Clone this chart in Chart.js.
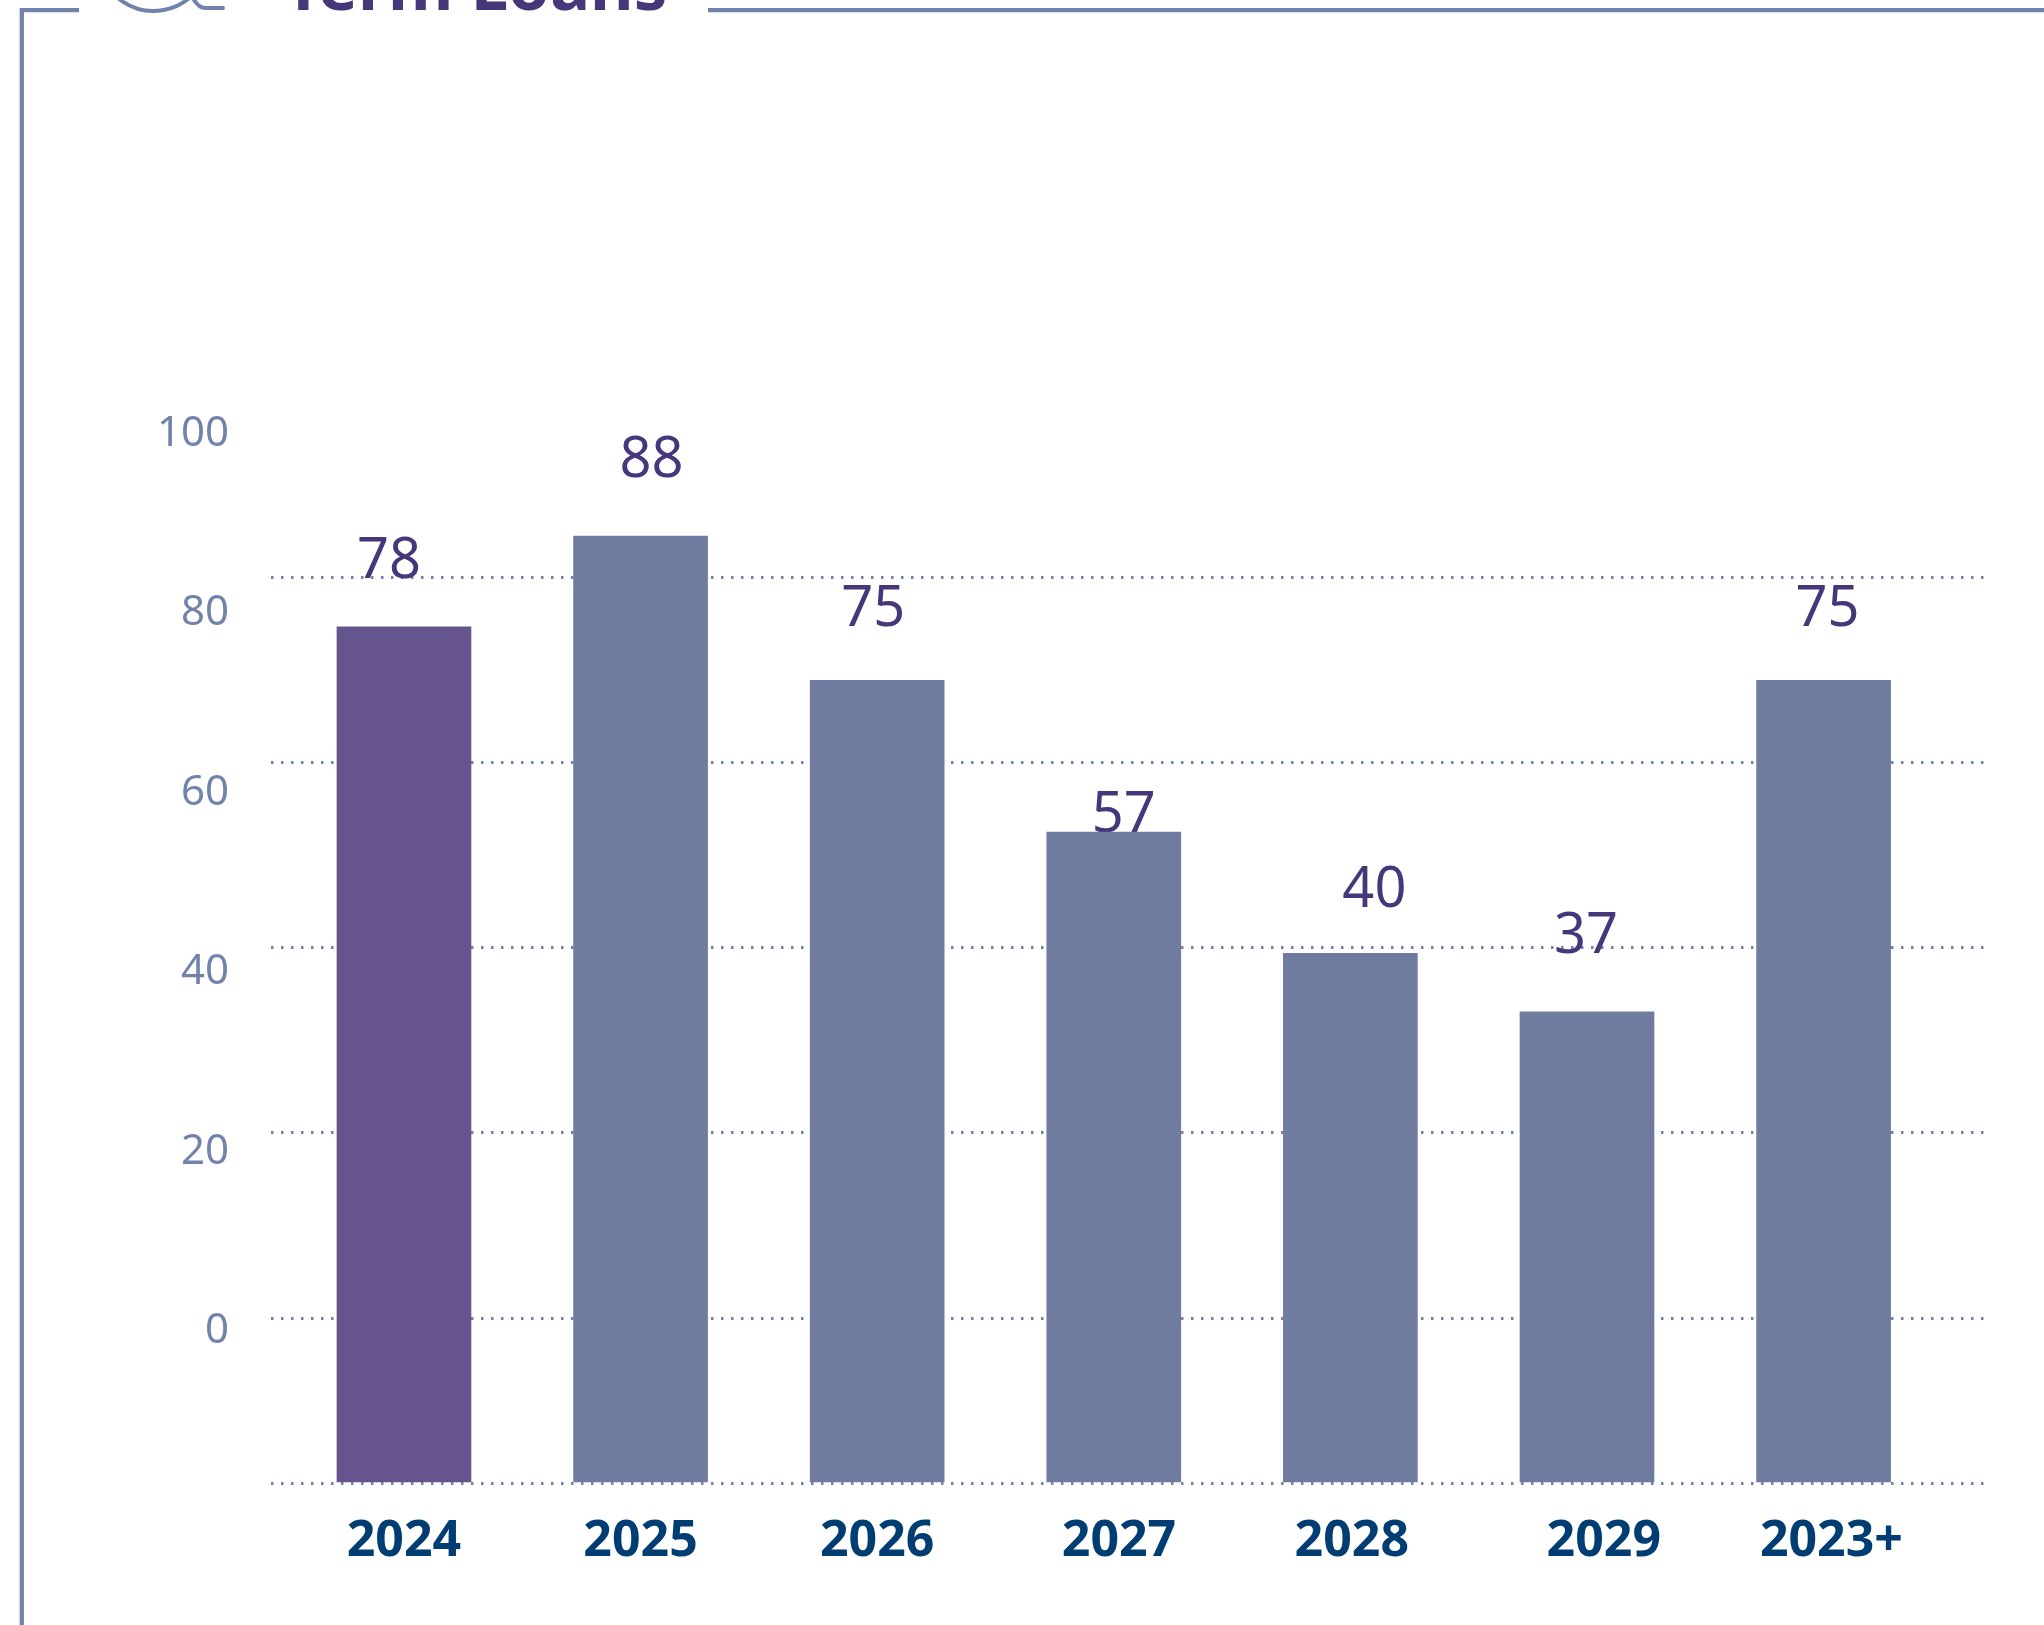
<!DOCTYPE html>
<html>
<head>
<meta charset="utf-8">
<title>Term Loans</title>
<script src="https://cdn.jsdelivr.net/npm/chart.js@4"></script>
<style>
    html, body { margin: 0; padding: 0; background: #fff; }
    #wrap { width: 2044px; height: 1625px; }
</style>
</head>
<body>
<div id="wrap"><canvas id="grafico" width="2044" height="1625"></canvas></div>
<script>
// Dados
const categorias = ['2024', '2025', '2026', '2027', '2028', '2029', '2023+'];
// valores impressos sobre as barras
const valoresImpressos = [78, 88, 75, 57, 40, 37, 75];
// altura desenhada de cada barra lida na grade (na figura nao bate com o valor impresso)
const alturasBarras = [74.7, 84.5, 68.9, 52.5, 39.4, 33.1, 68.9];
const ticksEixoY = [0, 20, 40, 60, 80, 100];
const linhasGrade = [0, 20, 40, 60, 80];

// Estilo
const coresBarras = ['#66548f', '#6f7ca0', '#6f7ca0', '#6f7ca0', '#6f7ca0', '#6f7ca0', '#6f7ca0'];
const ajusteRotuloX = [-15, 11, -4, 10, 24, -1, 4];
const folgaRotuloY = [65, 75, 70, 16, 62, 75, 70];
const ajusteAnoX = [0, 0, 0, 0.022, 0.006, 0.071, 0.033];

const MIN_GRADE = -17.88;
const MAX_GRADE = 99.2;
const COR_QUADRO = '#7283ab';
const COR_TITULO = '#46377b';

// Rotulos de valor ficam atras das barras, como na figura
const rotulosValor = {
    id: 'rotulosValor',
    beforeDatasetsDraw(chart) {
        const { ctx, scales } = chart;
        ctx.save();
        ctx.font = '56px "Noto Sans"';
        ctx.fillStyle = COR_TITULO;
        ctx.textAlign = 'center';
        ctx.textBaseline = 'middle';
        valoresImpressos.forEach((valor, i) => {
            const x = scales.x.getPixelForValue(i) + ajusteRotuloX[i];
            const y = scales.y.getPixelForValue(alturasBarras[i]) - folgaRotuloY[i];
            ctx.fillText(String(valor), x, y);
        });
        ctx.restore();
    }
};

// Quadro e titulo cortado no topo
const quadro = {
    id: 'quadro',
    beforeDraw(chart) {
        const { ctx } = chart;
        ctx.save();
        ctx.strokeStyle = COR_QUADRO;
        ctx.lineWidth = 4.3;
        ctx.beginPath();
        ctx.moveTo(79, 10.2);
        ctx.lineTo(21.8, 10.2);
        ctx.lineTo(21.8, 1625);
        ctx.moveTo(708, 10.2);
        ctx.lineTo(2044, 10.2);
        ctx.stroke();

        // pedaco do icone
        ctx.lineCap = 'round';
        ctx.lineWidth = 4;
        ctx.beginPath();
        ctx.arc(153.5, -44, 55, 0.6, Math.PI - 0.6);
        ctx.moveTo(193, -2);
        ctx.quadraticCurveTo(198, 8, 206, 8);
        ctx.lineTo(223, 8);
        ctx.stroke();

        ctx.font = 'bold 67px "Noto Sans"';
        ctx.fillStyle = COR_TITULO;
        ctx.textAlign = 'left';
        ctx.textBaseline = 'alphabetic';
        ctx.fillText('Term Loans', 284, 10);
        ctx.restore();
    }
};

new Chart(document.getElementById('grafico'), {
    type: 'bar',
    data: {
        datasets: [{
            data: categorias.map((c, i) => ({ x: i, y: alturasBarras[i] })),
            backgroundColor: coresBarras,
            base: MIN_GRADE,
            barThickness: 134,
            yAxisID: 'y'
        }]
    },
    plugins: [quadro, rotulosValor],
    options: {
        responsive: false,
        animation: false,
        layout: { padding: { top: 400, right: 60, left: 0, bottom: 0 } },
        plugins: { legend: { display: false }, tooltip: { enabled: false } },
        scales: {
            x: {
                type: 'linear',
                offset: false,
                min: -0.562,
                max: 6.678,
                border: { display: false },
                grid: { display: false },
                afterBuildTicks: (scale) => {
                    scale.ticks = categorias.map((c, i) => ({ value: i + ajusteAnoX[i] }));
                },
                afterFit: (scale) => { scale.height = 141.5; },
                ticks: {
                    autoSkip: false,
                    maxRotation: 0,
                    padding: 20,
                    color: '#003d73',
                    font: { family: 'Noto Sans', size: 50, weight: 'bold' },
                    callback: (v, i) => categorias[i]
                }
            },
            y: {
                position: 'left',
                min: MIN_GRADE,
                max: MAX_GRADE,
                border: { display: false, dash: [2.5, 7.5] },
                afterBuildTicks: (scale) => {
                    scale.ticks = [MIN_GRADE, ...linhasGrade].map(v => ({ value: v }));
                },
                afterFit: (scale) => { scale.width = 0; },
                ticks: { display: false },
                grid: {
                    drawTicks: false,
                    color: COR_QUADRO,
                    lineWidth: 3
                }
            },
            // os numeros do eixo estao deslocados da grade na figura, por isso outra escala
            yRotulos: {
                position: 'left',
                min: -17.0,
                max: 103.8,
                border: { display: false },
                grid: { display: false },
                afterBuildTicks: (scale) => {
                    scale.ticks = ticksEixoY.map(v => ({ value: v }));
                },
                afterFit: (scale) => { scale.width = 271; },
                ticks: {
                    padding: 34,
                    color: COR_QUADRO,
                    font: { family: 'Noto Sans', size: 42 }
                }
            }
        }
    }
});
</script>
</body>
</html>
